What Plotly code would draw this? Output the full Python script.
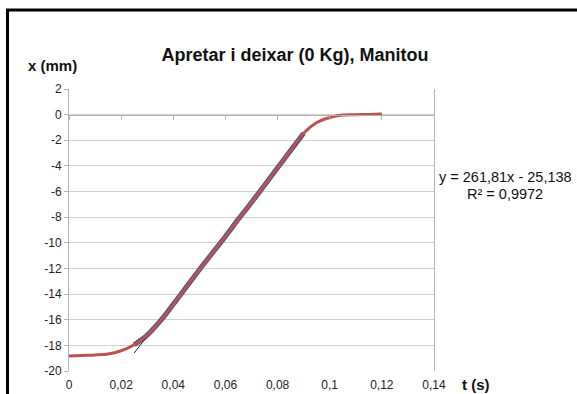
import plotly.graph_objects as go

# ---- data ----
t_all = [0, 0.005, 0.01, 0.015, 0.02, 0.025, 0.03, 0.035, 0.04, 0.045, 0.05,
         0.055, 0.06, 0.065, 0.07, 0.075, 0.08, 0.085, 0.09, 0.095, 0.1,
         0.105, 0.11, 0.115, 0.12]
x_all = [-18.83, -18.79, -18.75, -18.68, -18.42, -17.95, -17.2, -16.1, -14.8,
         -13.45, -12.1, -10.8, -9.5, -8.15, -6.85, -5.5, -4.15, -2.8, -1.45,
         -0.62, -0.22, -0.03, 0.0, 0.02, 0.05]

t_fit = [0.025, 0.03, 0.035, 0.04, 0.045, 0.05, 0.055, 0.06, 0.065, 0.07,
         0.075, 0.08, 0.085, 0.09]
x_fit = [-17.95, -17.2, -16.1, -14.8, -13.45, -12.1, -10.8, -9.5, -8.15,
         -6.85, -5.5, -4.15, -2.8, -1.45]

trend_slope = 261.81
trend_intercept = -25.138
trend_t = [t_fit[0], t_fit[-1]]
trend_x = [trend_slope * v + trend_intercept for v in trend_t]

x_tick_vals = [0, 0.02, 0.04, 0.06, 0.08, 0.1, 0.12, 0.14]
x_tick_text = ["0", "0,02", "0,04", "0,06", "0,08", "0,1", "0,12", "0,14"]
y_tick_vals = [2, 0, -2, -4, -6, -8, -10, -12, -14, -16, -18, -20]
y_tick_text = [str(v) for v in y_tick_vals]

title_text = "Apretar i deixar (0 Kg), Manitou"
eq_line1 = "y = 261,81x - 25,138"
eq_line2 = "R² = 0,9972"

FONT = "Liberation Sans, Arial, sans-serif"
GRID = "#D0D0D0"
AXIS = "#B4B4B4"

# plot area in pixels
W, H = 577, 394
L, R, T, B = 69, 434, 89, 371


def px(xp):
    return (xp - L) / (R - L)


def py(yp):
    return (B - yp) / (B - T)


fig = go.Figure()
fig.add_trace(go.Scatter(x=t_fit, y=x_fit, mode="lines",
                         line=dict(color="#3B5E95", width=5, shape="spline"),
                         showlegend=False, hoverinfo="skip"))
fig.add_trace(go.Scatter(x=trend_t, y=trend_x, mode="lines",
                         line=dict(color="#222222", width=1),
                         showlegend=False, hoverinfo="skip"))
fig.add_trace(go.Scatter(x=t_all, y=x_all, mode="lines",
                         line=dict(color="#C0504D", width=3, shape="spline",
                                   smoothing=0.8),
                         showlegend=False, hoverinfo="skip"))
fig.add_trace(go.Scatter(x=[], y=[], xaxis="x2", showlegend=False,
                         hoverinfo="skip"))

fig.update_layout(
    width=W, height=H,
    margin=dict(l=L, r=W - R, t=T, b=H - B),
    paper_bgcolor="white", plot_bgcolor="white",
    separators=", ",
    font=dict(family=FONT, size=12, color="#222222"),
    title=dict(text=title_text, x=295 / W, xref="container",
               y=1 - 54.5 / H, yref="container", xanchor="center",
               yanchor="middle", automargin=False,
               font=dict(family=FONT, size=18, color="#111111", weight="bold")),
    xaxis=dict(range=[0, 0.14], tickvals=x_tick_vals, ticktext=x_tick_text,
               showgrid=False, zeroline=False, showline=False, ticks="",
               tickfont=dict(size=12, color="#222222"),
               ticklabelstandoff=5, automargin=False),
    xaxis2=dict(range=[0, 0.14], overlaying="x", anchor="free",
                position=(0 - (-20)) / 22, tickvals=x_tick_vals,
                showticklabels=False, showgrid=False, zeroline=False,
                showline=True, linecolor=AXIS, linewidth=1,
                ticks="outside", ticklen=4, tickcolor=AXIS, automargin=False),
    yaxis=dict(range=[-20, 2], tickvals=y_tick_vals, ticktext=y_tick_text,
               showgrid=True, gridcolor=GRID, gridwidth=1, zeroline=False,
               showline=True, linecolor=AXIS, linewidth=1, mirror=True,
               ticks="outside", ticklen=4, tickcolor=AXIS, automargin=False,
               tickfont=dict(size=12, color="#222222")),
    shapes=[dict(type="rect", xref="paper", yref="paper",
                 x0=px(7.5), x1=px(620), y0=py(430), y1=py(10),
                 line=dict(color="black", width=3), fillcolor="rgba(0,0,0,0)",
                 layer="above")],
    annotations=[
        dict(text="x (mm)", xref="paper", yref="paper", x=px(52.5), y=py(65.5),
             xanchor="center", yanchor="middle", showarrow=False,
             font=dict(family=FONT, size=15, color="#111111", weight="bold")),
        dict(text="t (s)", xref="paper", yref="paper", x=px(476), y=py(384),
             xanchor="center", yanchor="middle", showarrow=False,
             font=dict(family=FONT, size=15, color="#111111", weight="bold")),
        dict(text=eq_line1, xref="paper", yref="paper", x=px(505), y=py(176.5),
             xanchor="center", yanchor="middle", showarrow=False,
             font=dict(family=FONT, size=14.5, color="#111111")),
        dict(text=eq_line2, xref="paper", yref="paper", x=px(505), y=py(194),
             xanchor="center", yanchor="middle", showarrow=False,
             font=dict(family=FONT, size=14.5, color="#111111")),
    ],
)

fig.write_html("out.html")
